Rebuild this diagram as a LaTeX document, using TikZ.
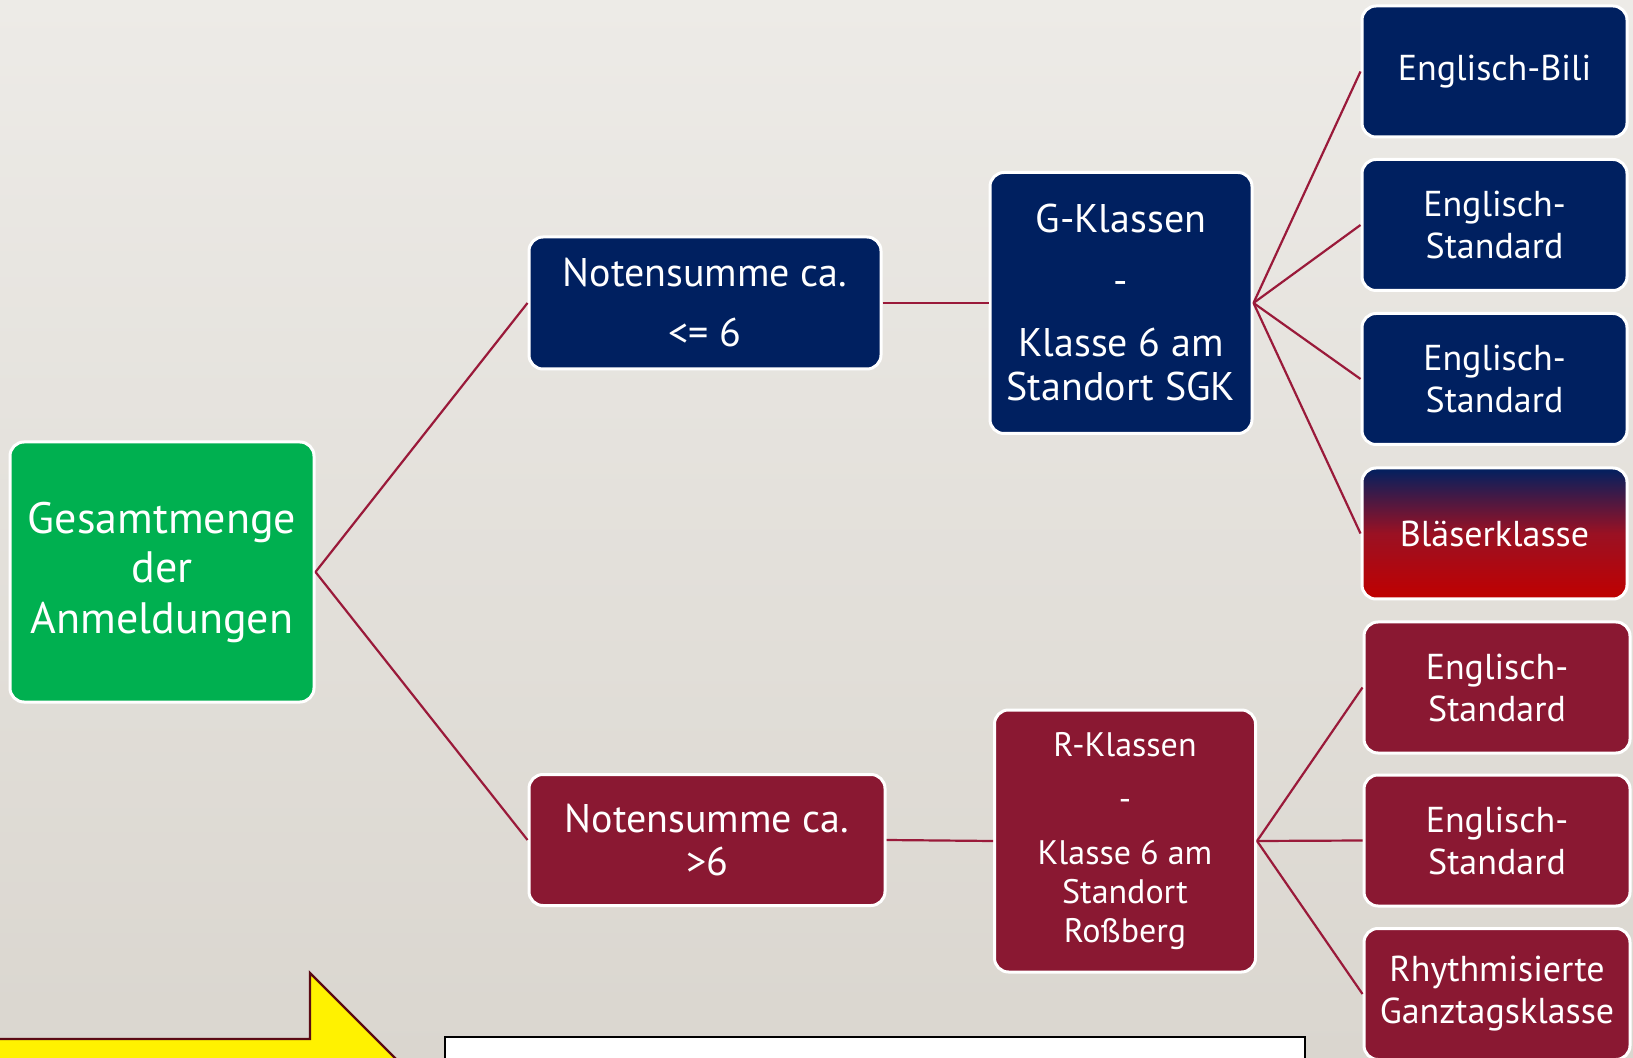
\documentclass[tikz,border=0pt]{standalone}
\usepackage{fontspec}
\setmainfont{PT Sans}
\definecolor{navy}{HTML}{002060}
\definecolor{wine}{HTML}{8A1832}
\definecolor{leaf}{HTML}{00B050}
\definecolor{linkred}{HTML}{9A1A3A}
\definecolor{bgtop}{HTML}{EDEBE7}
\definecolor{bgbot}{HTML}{DAD6CF}
\definecolor{signred}{HTML}{C00000}
\definecolor{rim}{HTML}{5A0A14}
\begin{document}
\begin{tikzpicture}[x=.5pt,y=-.5pt,
    box/.style={draw=white,line width=1.5pt,rounded corners=7pt,text=white,
      align=center,inner sep=2pt,font=\fontsize{18}{21}\selectfont},
    bluebox/.style={box,fill=navy},
    redbox/.style={box,fill=wine},
    link/.style={draw=linkred,line width=1.1pt}]
    \useasboundingbox (0,0) rectangle (1633,1058);
    \clip (0,0) rectangle (1633,1058);
    \shade[top color=bgtop,bottom color=bgbot] (0,0) rectangle (1633,1058);

    %% root
    \node[box,fill=leaf,minimum width=152pt,minimum height=130pt,
      font=\fontsize{22}{25}\selectfont] (root) at (162,572)
      {Gesamtmenge\\der\\Anmeldungen};

    %% Notensumme
    \node[bluebox,minimum width=176pt,minimum height=66pt,
      font=\fontsize{20}{22}\selectfont] (ns1) at (705,303)
      {Notensumme ca.\\[8pt]<= 6};
    \node[redbox,minimum width=178pt,minimum height=65.5pt,
      font=\fontsize{20}{21.5}\selectfont] (ns2) at (707,840)
      {Notensumme ca.\\>6};

    %% Klassen
    \node[bluebox,minimum width=131pt,minimum height=130.5pt,
      font=\fontsize{20}{22}\selectfont] (gk) at (1121,303)
      {G-Klassen\\[9pt]-\\[9pt]Klasse 6 am\\Standort SGK};
    \node[redbox,minimum width=130.5pt,minimum height=131pt,
      font=\fontsize{17}{19.5}\selectfont] (rk) at (1125,841)
      {R-Klassen\\[7.5pt]-\\[7.5pt]Klasse 6 am\\Standort\\Roßberg};

    %% right column, top
    \node[bluebox,minimum width=132.5pt,minimum height=65.5pt] (g1) at (1494.5,71.5)
      {Englisch-Bili};
    \node[bluebox,minimum width=132.5pt,minimum height=65.5pt] (g2) at (1494.5,225)
      {Englisch-\\Standard};
    \node[bluebox,minimum width=132.5pt,minimum height=65.5pt] (g3) at (1494.5,379)
      {Englisch-\\Standard};
    \node[box,top color=navy,bottom color=signred,middle color=wine!70!signred,
      minimum width=132.5pt,minimum height=65.5pt] (g4) at (1494.5,533.5)
      {Bläserklasse};

    %% right column, bottom
    \node[redbox,minimum width=133pt,minimum height=65.5pt] (r1) at (1497,687.5)
      {Englisch-\\Standard};
    \node[redbox,minimum width=133pt,minimum height=65.5pt] (r2) at (1497,840.5)
      {Englisch-\\Standard};
    \node[redbox,minimum width=133pt,minimum height=65.5pt] (r3) at (1497,994)
      {Rhythmisierte\\Ganztagsklasse};

    %% connectors
    \draw[link] (root.east) -- (ns1.west);
    \draw[link] (root.east) -- (ns2.west);
    \draw[link] (ns1.east) -- (gk.west);
    \draw[link] (ns2.east) -- (rk.west);
    \foreach \n in {g1,g2,g3,g4}
      \draw[link] (gk.east) -- (\n.west);
    \foreach \n in {r1,r2,r3}
      \draw[link] (rk.east) -- (\n.west);

    %% bottom: arrow and box (cut off)
    \draw[rim,line width=1.2pt,fill=yellow]
      (-10,1039) -- (310,1039) -- (310,973) -- (420,1083) -- (-10,1083) -- cycle;
    \draw[black,line width=1.2pt,fill=white] (445,1037) rectangle (1305,1100);
  \end{tikzpicture}
\end{document}
